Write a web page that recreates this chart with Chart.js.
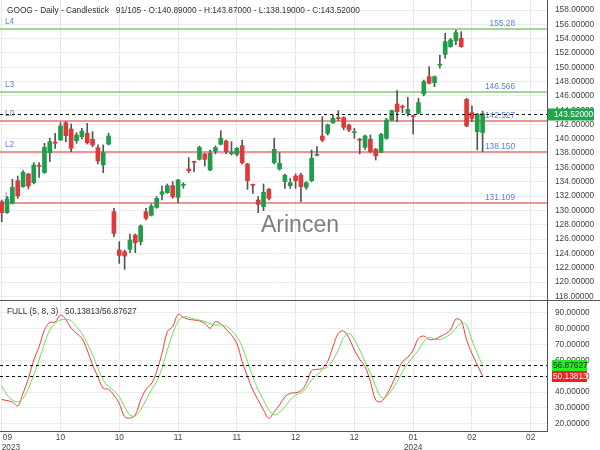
<!DOCTYPE html>
<html><head><meta charset="utf-8">
<script src="https://cdn.jsdelivr.net/npm/chart.js@4.4.1/dist/chart.umd.min.js"></script>
<style>
html,body{margin:0;padding:0;background:#fff;}
#wrap{position:relative;width:600px;height:450px;overflow:hidden;background:#fff;}
#c1{position:absolute;left:0;top:0;}
#c2{position:absolute;left:0;top:300px;}
</style></head><body>
<div id="wrap"><canvas id="c1" width="600" height="300"></canvas><canvas id="c2" width="600" height="150"></canvas></div>
<script>
// ---------------- DATA ----------------
const symbol = "GOOG";
const totalBars = 105;
const opens  = [131.23,129.69,131.00,134.16,133.32,135.09,133.88,136.30,135.28,138.07,139.56,139.84,142.27,141.38,139.75,140.31,140.78,139.94,138.77,136.35,139.28,129.83,124.47,124.24,124.57,126.57,125.64,129.83,129.32,130.43,132.25,132.48,133.46,131.83,133.51,135.79,136.86,137.14,137.89,135.65,138.31,139.24,139.70,137.93,137.84,139.05,136.49,133.65,131.46,130.53,132.95,136.68,135.79,134.02,133.46,134.81,134.95,133.23,134.16,137.70,140.40,140.77,142.26,142.96,142.96,141.94,140.87,139.89,138.82,139.94,138.54,138.12,140.08,142.64,144.87,144.50,143.57,143.20,143.57,146.27,148.69,147.85,150.28,151.81,152.88,153.72,154.05,145.52,143.66,141.01,140.89];
const highs  = [131.46,131.93,134.35,134.81,135.56,135.19,136.68,136.68,139.38,140.08,140.78,142.27,142.41,142.08,140.87,141.47,142.17,141.01,139.15,139.15,140.78,130.30,125.64,124.47,126.71,126.71,127.97,130.30,130.90,131.93,133.42,133.70,134.02,134.35,133.88,137.38,136.91,139.00,137.98,138.45,139.00,141.15,139.84,139.61,138.82,139.84,136.58,133.70,131.93,133.70,133.09,140.08,138.07,135.09,134.49,135.09,135.19,134.02,138.45,138.91,143.10,142.08,143.34,143.94,143.10,142.08,141.47,140.08,140.54,140.54,138.68,140.77,142.87,144.03,146.74,144.73,145.80,143.34,145.66,148.23,150.09,148.79,151.72,154.75,154.05,155.21,154.98,145.66,144.59,143.57,143.87];
const lows   = [128.43,129.60,130.90,131.69,133.20,133.00,133.70,134.63,135.19,136.82,138.68,139.80,139.61,138.21,139.38,140.00,139.28,138.91,136.49,135.28,139.15,126.34,122.61,121.77,124.10,124.10,125.17,128.67,129.22,130.30,131.46,132.39,131.69,131.09,133.09,135.28,135.42,137.05,136.21,135.56,137.89,139.15,137.89,137.75,137.61,136.49,132.95,132.39,129.69,129.97,131.46,136.49,135.65,133.09,133.09,133.09,131.23,132.95,134.02,137.61,139.61,140.54,142.17,142.54,141.24,141.01,140.08,137.89,138.54,138.07,137.05,138.07,139.94,142.54,142.40,143.66,143.20,140.68,143.48,145.99,147.67,147.29,149.86,151.25,152.79,153.12,152.79,141.71,142.40,138.45,138.19];
const closes = [129.69,131.60,133.23,132.02,135.33,133.42,136.35,136.16,138.82,139.61,139.38,141.80,140.45,138.68,140.54,141.10,139.47,139.15,136.91,138.07,140.40,126.80,123.73,123.63,125.87,125.50,127.83,128.90,130.62,131.69,132.62,133.46,131.93,134.25,133.65,135.56,136.72,138.82,137.14,137.98,138.77,140.08,138.21,138.17,138.68,136.68,134.16,133.51,130.85,132.53,131.69,138.54,136.58,134.90,133.88,134.16,133.32,133.88,137.28,137.79,139.84,141.94,142.87,142.82,141.61,141.24,141.01,139.80,140.40,138.21,137.61,140.63,142.64,143.94,143.80,144.41,144.13,143.10,145.06,147.99,147.76,148.69,150.37,153.58,153.82,154.84,152.88,141.80,142.87,143.48,143.52];
const stochK = [35.4,34.6,33.8,31.2,39.2,48.7,60.2,68.6,79.1,83.9,84.1,88.6,85.8,80.2,77.0,73.9,66.5,57.1,49.7,42.4,41.7,38.2,32.9,24.5,23.7,25.6,35.0,41.7,45.1,52.9,64.4,78.1,81.2,89.0,87.1,85.8,85.4,84.8,83.3,80.2,84.4,82.9,79.5,76.0,70.7,59.2,49.7,41.3,35.0,28.7,23.5,27.7,31.9,37.1,39.2,39.6,40.9,45.5,53.5,54.3,55.0,59.2,68.6,77.0,78.5,73.9,66.5,60.6,56.0,46.6,35.0,34.0,38.2,44.5,52.2,59.2,61.9,66.5,73.9,75.3,73.2,73.2,74.9,76.6,79.1,86.0,84.8,72.8,64.4,57.1,50.13813];
const stochD = [43.8,38.2,35.0,34.0,36.1,42.4,50.8,60.2,70.7,79.1,83.3,85.4,85.8,85.0,81.2,77.0,70.7,63.4,55.0,47.6,43.4,40.9,37.1,30.8,25.6,25.0,28.7,35.0,41.3,46.6,55.0,66.5,77.0,84.4,87.5,87.1,86.0,85.4,84.4,82.9,82.3,82.3,81.6,78.7,74.9,68.6,59.2,49.7,41.3,35.0,28.7,25.6,27.1,30.8,35.0,38.2,39.6,43.0,47.6,50.8,53.9,56.0,60.2,66.5,74.5,77.0,73.2,66.5,59.2,51.8,43.4,36.7,37.1,41.3,46.6,52.9,58.1,62.3,66.5,71.8,74.5,73.2,73.2,74.5,76.6,80.2,83.7,82.3,72.8,64.4,56.87627];
const levelNames    = ["L4","L3","L0","L2","L1"];
const levelValues   = [155.28,146.566,142.527,138.150,131.109];
const levelDecimals = [2,3,3,3,3];
const levelKinds    = ["up","up","down","down","down"];
const stochParams = [5,8,3];
const xTickIndex  = [0,11,22,33,44,55,66,77,88,99];
const xTickLabels = [["09","2023"],"10","10","11","11","12","12",["01","2024"],"02","02"];

// ---------------- STYLE ----------------
const FONT = "'Liberation Sans', Arial, sans-serif";
const FS = 8.3;
const UP = '#1f9d4b', DOWN = '#e0393b', WICK = '#555555';
const X_MIN = -0.32, X_MAX = 102.05;
const AXIS_W = 53;
const N = closes.length;

const fixTicks = s => { s.ticks = xTickIndex.map(v => ({value: v})); };
// regular ticks at every multiple of the step inside the axis range
const stepTicks = step => s => {
  const out = [];
  for (let v = Math.ceil(s.min / step) * step; v <= s.max + 1e-9; v += step) out.push({value: v});
  s.ticks = out;
};
// first label sits flush with the left edge, as in the reference
const xLabel = (v, i) => {
  const l = xTickLabels[i];
  if (i !== 0) return l;
  return Array.isArray(l) ? l.map((s, k) => ' '.repeat(k === 0 ? 5 : 8) + s) : '     ' + l;
};

const topPlugin = {
  id: 'topDeco',
  beforeDatasetsDraw(chart) {
    const {ctx, chartArea: a, scales: {y}} = chart;
    ctx.save();
    // watermark
    ctx.fillStyle = 'rgba(105,105,105,0.85)';
    ctx.font = `23px ${FONT}`;
    ctx.textAlign = 'center'; ctx.textBaseline = 'alphabetic';
    ctx.fillText('Arincen', 300, 232);
    // level lines + labels
    ctx.font = `${FS}px ${FONT}`;
    levelValues.forEach((v, i) => {
      const py = Math.round(y.getPixelForValue(v));
      ctx.strokeStyle = levelKinds[i] === 'up' ? '#7ccf6e' : '#e57373';
      ctx.lineWidth = 1.5;
      ctx.beginPath(); ctx.moveTo(a.left, py); ctx.lineTo(a.right, py); ctx.stroke();
      ctx.fillStyle = '#5a7fe0';
      ctx.textAlign = 'left';
      ctx.fillText(levelNames[i], 5, py - 5);
      ctx.textAlign = 'right';
      ctx.fillText(v.toFixed(levelDecimals[i]), 515, py - 3);
    });
    ctx.restore();
  },
  afterDraw(chart) {
    const {ctx, chartArea: a, scales: {y}} = chart;
    ctx.save();
    ctx.font = `${FS}px ${FONT}`;
    // last close dashed line
    const last = closes[N - 1];
    const ly = Math.round(y.getPixelForValue(last)) + 0.5;
    ctx.strokeStyle = '#111'; ctx.lineWidth = 1; ctx.setLineDash([3, 3]);
    ctx.beginPath(); ctx.moveTo(a.left, ly); ctx.lineTo(a.right, ly); ctx.stroke();
    ctx.setLineDash([]);
    // tag
    ctx.fillStyle = '#1fa54a';
    ctx.fillRect(a.right + 1, ly - 6, 46, 12);
    ctx.fillStyle = '#fff'; ctx.textAlign = 'left'; ctx.textBaseline = 'middle';
    ctx.fillText(last.toFixed(5), a.right + 7, ly + 0.5);
    // header
    ctx.fillStyle = '#333'; ctx.textAlign = 'left'; ctx.textBaseline = 'middle';
    const hdr = `${symbol} - Daily - Candlestick   ${N}/${totalBars} - O:${opens[N-1].toFixed(5)} - H:${highs[N-1].toFixed(5)} - L:${lows[N-1].toFixed(5)} - C:${closes[N-1].toFixed(5)}`;
    ctx.fillText(hdr, 7, 11);
    ctx.restore();
  }
};

const botPlugin = {
  id: 'botDeco',
  afterDraw(chart) {
    const {ctx, chartArea: a, scales: {y}} = chart;
    ctx.save();
    ctx.font = `${FS}px ${FONT}`;
    // separator line
    ctx.strokeStyle = '#555'; ctx.lineWidth = 1;
    ctx.beginPath(); ctx.moveTo(0, 0.5); ctx.lineTo(600, 0.5); ctx.stroke();
    const kLast = stochK[N - 1], dLast = stochD[N - 1];
    ctx.setLineDash([3, 3]); ctx.strokeStyle = '#111';
    [kLast, dLast].forEach(v => {
      const py = Math.round(y.getPixelForValue(v)) + 0.5;
      ctx.beginPath(); ctx.moveTo(a.left, py); ctx.lineTo(a.right, py); ctx.stroke();
    });
    ctx.setLineDash([]);
    ctx.textAlign = 'left'; ctx.textBaseline = 'middle';
    // tags
    let py = Math.round(y.getPixelForValue(dLast)) + 0.5;
    ctx.fillStyle = '#22ee22'; ctx.fillRect(a.right + 5, py - 5.5, 35, 11);
    ctx.fillStyle = '#222'; ctx.fillText(dLast.toFixed(5), a.right + 6, py + 0.5);
    py = Math.round(y.getPixelForValue(kLast)) + 0.5;
    ctx.fillStyle = '#ee2222'; ctx.fillRect(a.right + 5, py - 5.5, 35, 11);
    ctx.fillStyle = '#fff'; ctx.fillText(kLast.toFixed(5), a.right + 6, py + 0.5);
    // header
    ctx.fillStyle = '#333';
    ctx.fillText(`FULL (${stochParams.join(', ')})   ${kLast.toFixed(5)}/${dLast.toFixed(5)}`, 7, 12);
    ctx.restore();
  }
};

Chart.defaults.font.family = FONT;
Chart.defaults.font.size = FS;

new Chart(document.getElementById('c1'), {
  type: 'bar',
  data: {
    datasets: [
      { label: 'wick', order: 1, grouped: false, barThickness: 1, minBarLength: 1,
        data: highs.map((h, i) => ({x: i, y: [lows[i], h]})),
        backgroundColor: WICK },
      { label: 'body', order: 0, grouped: false, barThickness: 4, minBarLength: 1,
        data: opens.map((o, i) => ({x: i, y: [o, closes[i]]})),
        backgroundColor: opens.map((o, i) => closes[i] >= o ? UP : DOWN) }
    ]
  },
  options: {
    responsive: false, animation: false, devicePixelRatio: 1,
    layout: {padding: 0},
    plugins: {legend: {display: false}, tooltip: {enabled: false}},
    scales: {
      x: { type: 'linear', min: X_MIN, max: X_MAX, offset: false,
           grid: {offset: false, color: '#e8e8e8', drawTicks: false},
           border: {display: false}, ticks: {display: false},
           afterBuildTicks: fixTicks,
           afterFit: s => { s.height = 0; s.paddingLeft = 0; s.paddingRight = 0; } },
      y: { position: 'right', min: 117.49, max: 159.4,
           grid: {color: '#ececec', drawTicks: false},
           border: {display: true, color: '#555'},
           ticks: {padding: 8, color: '#444', callback: v => v.toFixed(5)},
           afterBuildTicks: stepTicks(2),
           afterFit: s => { s.width = AXIS_W; s.paddingTop = 0; s.paddingBottom = 0; } }
    }
  },
  plugins: [topPlugin]
});

new Chart(document.getElementById('c2'), {
  type: 'line',
  data: {
    datasets: [
      { label: '%D', data: stochD.map((v, i) => ({x: i, y: v})), borderColor: '#66e35a', borderWidth: 1, pointRadius: 0, tension: 0.35 },
      { label: '%K', data: stochK.map((v, i) => ({x: i, y: v})), borderColor: '#f23b3b', borderWidth: 1, pointRadius: 0, tension: 0.35 }
    ]
  },
  options: {
    responsive: false, animation: false, devicePixelRatio: 1,
    layout: {padding: 0},
    plugins: {legend: {display: false}, tooltip: {enabled: false}},
    scales: {
      x: { type: 'linear', min: X_MIN, max: X_MAX, offset: false,
           grid: {offset: false, color: '#e8e8e8', drawTicks: false},
           border: {display: true, color: '#555'},
           ticks: {autoSkip: false, maxRotation: 0, padding: 2, color: '#444', callback: xLabel},
           afterBuildTicks: fixTicks,
           afterFit: s => { s.height = 19; s.paddingLeft = 0; s.paddingRight = 0; } },
      y: { position: 'right', min: 15.5, max: 98,
           grid: {color: '#ececec', drawTicks: false},
           border: {display: true, color: '#555'},
           ticks: {padding: 8, color: '#444', callback: v => v.toFixed(5)},
           afterBuildTicks: stepTicks(10),
           afterFit: s => { s.width = AXIS_W; s.paddingTop = 0; s.paddingBottom = 0; } }
    }
  },
  plugins: [botPlugin]
});
</script>
</body></html>
